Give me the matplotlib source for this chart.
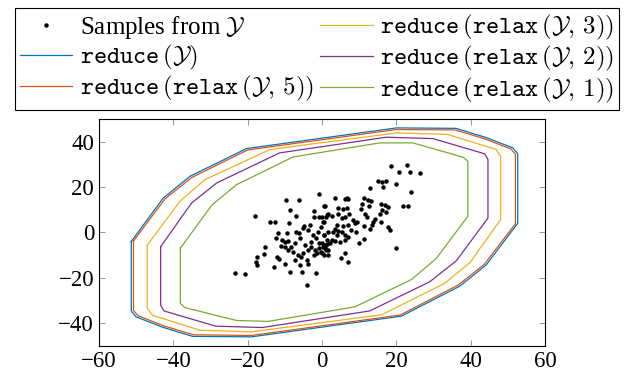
import numpy as np
import matplotlib
matplotlib.use("Agg")
import matplotlib.pyplot as plt

plt.rcParams["font.family"] = ["Liberation Serif", "DejaVu Serif"]
plt.rcParams["mathtext.fontset"] = "cm"

# ── polygon vertices (x, y) for each reduced set ─────────────────────────────
blue_x = [-51.3, -42.7, -35.5, -20.3, 20.0, 36.0, 44.0, 51.3, 52.6, 52.6, 44.1, 37.0, 21.3, -19.0, -34.8, -42.8, -50.0, -51.3]
blue_y = [-4.0, 15.1, 24.7, 36.9, 46.0, 45.8, 41.8, 37.2, 34.6, 4.0, -14.4, -23.7, -36.9, -46.0, -45.8, -41.8, -37.2, -34.6]

orange_x = [-50.7, -42.2, -35.0, -20.0, 20.0, 35.8, 43.7, 50.8, 52.0, 52.0, 43.6, 36.6, 21.0, -19.0, -34.6, -42.5, -49.5, -50.7]
orange_y = [-3.8, 14.8, 24.2, 36.3, 45.3, 45.1, 41.2, 36.7, 34.3, 3.8, -14.1, -23.2, -36.4, -45.4, -45.1, -41.2, -36.7, -34.3]

yellow_x = [-47.0, -38.2, -31.5, -14.0, 20.0, 33.8, 46.8, 48.0, 48.0, 39.7, 32.9, 16.0, -19.0, -32.8, -45.6, -47.0]
yellow_y = [-5.6, 13.7, 23.2, 36.5, 43.8, 43.1, 36.5, 33.5, 5.6, -13.4, -22.5, -36.3, -43.8, -43.1, -36.5, -33.5]

purple_x = [-43.4, -35.1, -28.3, -11.4, 17.3, 29.8, 43.7, 44.6, 44.6, 36.1, 28.9, 12.8, -16.1, -28.6, -42.5, -43.4]
purple_y = [-6.3, 12.9, 21.8, 35.0, 41.9, 41.3, 34.6, 32.1, 6.3, -12.5, -21.8, -34.6, -41.9, -41.3, -34.6, -32.1]

green_x = [-38.1, -29.7, -23.0, -7.8, 15.5, 24.4, 37.9, 39.2, 39.2, 30.7, 24.0, 8.8, -14.5, -23.0, -36.9, -38.1]
green_y = [-7.0, 11.9, 21.0, 33.2, 39.4, 39.4, 33.1, 31.3, 7.1, -11.5, -20.8, -32.8, -39.2, -38.8, -33.1, -31.3]

# ── samples from Y ───────────────────────────────────────────────────────────
sample_x = [
    -0.7, -9.6, -6.1, -8.7, -7.0, -18.0, -14.1, -12.6, -9.0, -2.2, -2.3, -0.7, 0.65, 1.2,
    -4.9, -3.3, -5.2, 0.2, -0.2, -1.1, -11.9, -9.4, -7.0, -6.1, -3.8, -2.5, 0.65,
    -12.3, -10.8, -10.1, -9.2, -11.0, -10.1, -8.3, -7.4, -5.8, -4.7, -2.9, -1.6, -0.7,
    0.2, 1.1, -15.3, -9.2, -7.9, -6.5, -5.2, -3.8, -2.9, -2.0, -1.3, -0.2, 0.65, 1.1,
    -15.7, -17.4, -12.1, -11.7, -7.4, -5.6, -4.0, -2.2, -17.7, -17.4, -12.95, -9.9,
    -5.8, -3.8, -8.6, -5.4, -1.6, -23.3, -20.6, -4.0, 0.0, -0.7,
    18.5, 22.7, 20.7, 23.6, 26.4, 15.1, 16.2, 17.1, 16.5, 19.8, 13.0, 23.9, 3.5, 6.2,
    7.1, 6.6, 11.4, 12.3, 13.2, 10.7, 0.8, 4.2, 5.5, 6.6, 10.5, 12.6, 15.8, 16.9, 17.6,
    21.8, 23.0, 16.0, 15.6, 17.1, 11.6, 12.0, 1.7, 2.6, 4.2, 5.3, 6.2, 7.3, 0.1, 1.0,
    8.4, 9.3, 8.9, 14.2, 13.8, 13.3, 12.9, 15.9, 11.4, 17.6, 18.3, 0.6, 3.9, 5.7, 7.1,
    3.5, 4.4, 5.3, 3.0, 3.9, 6.2, 7.8, 9.0, 1.7, 0.4, 1.3, 2.6, 3.5, 4.8, 6.2, 7.1, 9.8,
    11.4, -0.1, 1.3, 1.7, 0.8, 6.2, 5.1, 6.9, 1.5, 19.8, 0.4, 2.2,
]
sample_y = [
    16.9, 14.3, 14.3, 9.7, 7.2, 7.4, 4.4, 4.7, 4.3, 9.4, 6.8, 6.8, 11.8, 7.7,
    2.9, 3.2, 1.8, 4.4, 2.5, 0.3, -0.4, -0.1, 0.3, -0.4, 1.0, -1.2, -1.2,
    -2.6, -3.4, -4.1, -3.8, -5.9, -6.3, -6.3, -4.9, -2.6, -5.6, -4.1, -2.6, -4.9,
    -6.3, -5.6, -6.6, -7.8, -8.5, -10.0, -9.3, -7.8, -6.3, -7.8, -9.3, -8.5, -10.0, -7.8,
    -9.7, -10.7, -10.7, -11.8, -12.2, -10.7, -12.2, -10.0, -13.2, -14.4, -15.2, -14.1,
    -14.4, -14.1, -17.4, -17.4, -18.1, -18.1, -18.5, -23.3, -9.3, -7.1,
    29.4, 29.7, 26.4, 26.4, 26.3, 22.6, 22.3, 22.6, 20.1, 21.3, 19.7, 17.9, 15.0, 14.5,
    14.5, 15.0, 15.0, 14.2, 13.8, 12.3, 11.7, 10.8, 10.5, 10.8, 10.5, 11.6, 12.3, 12.0, 11.3,
    11.6, 11.6, 9.8, 8.3, 9.1, 8.3, 6.9, 8.3, 7.3, 7.9, 6.4, 6.9, 7.9, 6.9, 6.9,
    5.4, 4.7, 4.3, 6.1, 4.7, 3.2, 1.7, 4.7, 2.9, 2.5, 1.0, 4.7, 3.2, 2.9, 3.2,
    1.4, 0.5, 0.3, 0.0, -1.2, -1.2, 1.0, 0.3, 0.0, -1.2, -3.4, -3.4, -3.9, -4.2, -3.4, -1.9, -4.9,
    -3.1, -4.9, -5.3, -7.8, -7.1, -9.3, -11.5, -13.0, -10.0, -7.1, -5.6, -4.9,
]

xticks = [-60, -40, -20, 0, 20, 40, 60]
yticks = [-40, -20, 0, 20, 40]

fig = plt.figure(figsize=(6.34, 3.76), dpi=100)
ax = fig.add_axes([0.156, 0.080, 0.704, 0.604])

polys = [
    (blue_x, blue_y, "#0072BD", r"$\mathtt{reduce}\,\mathtt{(}\mathcal{Y})$"),
    (orange_x, orange_y, "#D95319", r"$\mathtt{reduce}\,\mathtt{(relax}\,\mathtt{(}\mathcal{Y},\,5))$"),
    (yellow_x, yellow_y, "#EDB120", r"$\mathtt{reduce}\,\mathtt{(relax}\,\mathtt{(}\mathcal{Y},\,3))$"),
    (purple_x, purple_y, "#7E2F8E", r"$\mathtt{reduce}\,\mathtt{(relax}\,\mathtt{(}\mathcal{Y},\,2))$"),
    (green_x, green_y, "#77AC30", r"$\mathtt{reduce}\,\mathtt{(relax}\,\mathtt{(}\mathcal{Y},\,1))$"),
]

pts, = ax.plot(sample_x, sample_y, ls="none", marker="o", ms=2.2, color="black",
               label=r"Samples from $\mathcal{Y}$", zorder=5)
handles = [pts]
for px, py, col, lab in polys:
    h, = ax.plot(px + px[:1], py + py[:1], color=col, lw=0.9, label=lab)
    handles.append(h)

ax.set_xlim(-60, 60)
ax.set_ylim(-50, 50)
ax.set_xticks(xticks)
ax.set_yticks(yticks)
ax.tick_params(direction="in", top=True, right=True, length=4, width=0.6,
               color="#888888", labelsize=16.5)
for s in ax.spines.values():
    s.set_linewidth(0.8)

leg = fig.legend(handles=handles, ncol=2, loc="upper center",
                 bbox_to_anchor=(0.5, 0.978), fontsize=18, frameon=True,
                 fancybox=False, edgecolor="black", framealpha=1,
                 handlelength=2.1, handletextpad=0.3, columnspacing=0.25,
                 labelspacing=0.08, borderpad=0.2, borderaxespad=0)
leg.get_frame().set_linewidth(0.8)

fig.savefig("out.png", dpi=100)
